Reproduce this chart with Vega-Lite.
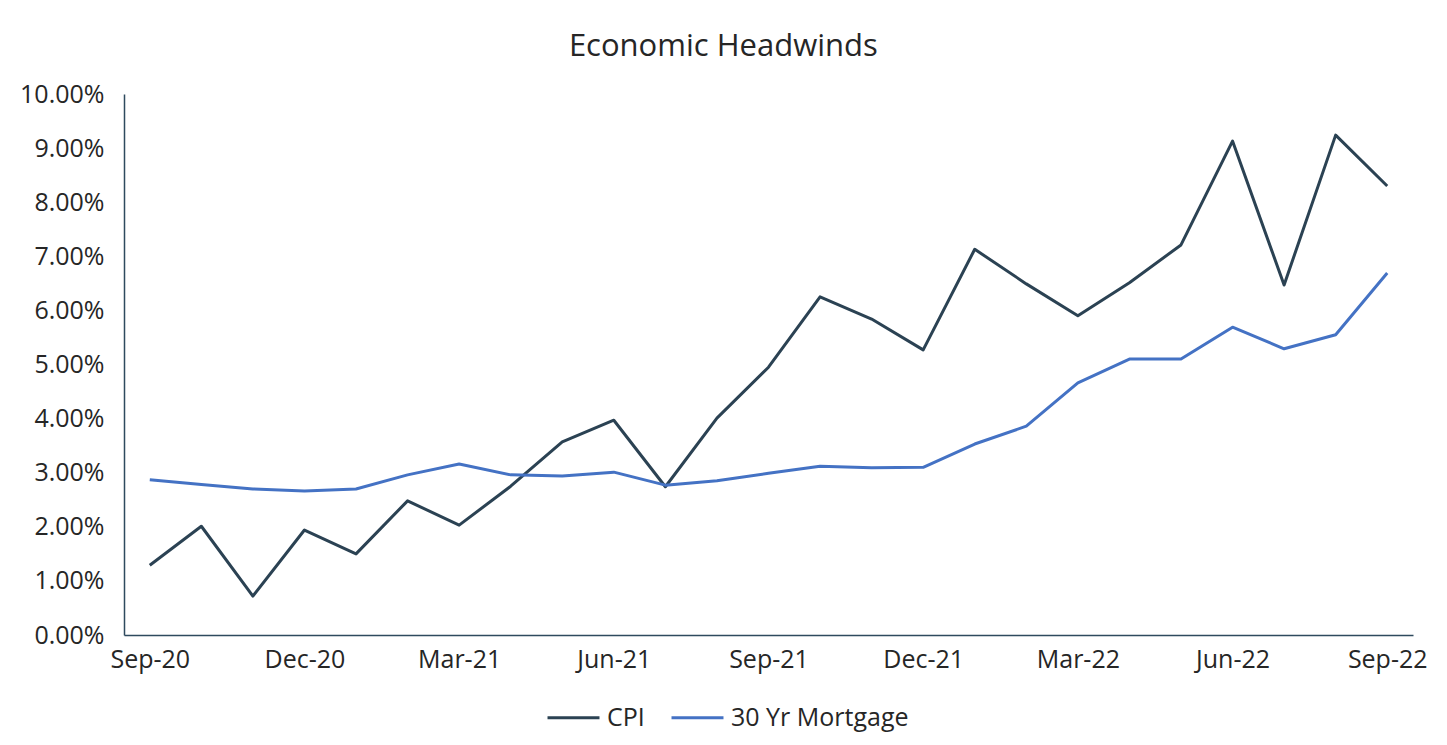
{
  "$schema": "https://vega.github.io/schema/vega-lite/v6.json",
  "autosize": {"type": "none"},
  "width": 1289,
  "height": 541,
  "padding": {"left": 124, "top": 94, "right": 34, "bottom": 110},
  "background": "white",
  "config": {
    "font": "Open Sans",
    "view": {"stroke": null},
    "axis": {"grid": false, "ticks": false, "domainColor": "#2E4A5E", "domainWidth": 1.5, "labelColor": "#262626", "labelFont": "Open Sans", "labelFontSize": 25, "title": null}
  },
  "title": {"text": "Economic Headwinds", "fontSize": 31, "font": "Open Sans", "fontWeight": "normal", "color": "#262626", "anchor": "middle", "frame": "bounds", "offset": 19},
  "data": {"values": [
    {"month": "Sep-20", "series": "CPI", "value": 1.29},
    {"month": "Sep-20", "series": "30 Yr Mortgage", "value": 2.87},
    {"month": "Oct-20", "series": "CPI", "value": 2.01},
    {"month": "Oct-20", "series": "30 Yr Mortgage", "value": 2.78},
    {"month": "Nov-20", "series": "CPI", "value": 0.72},
    {"month": "Nov-20", "series": "30 Yr Mortgage", "value": 2.70},
    {"month": "Dec-20", "series": "CPI", "value": 1.94},
    {"month": "Dec-20", "series": "30 Yr Mortgage", "value": 2.66},
    {"month": "Jan-21", "series": "CPI", "value": 1.50},
    {"month": "Jan-21", "series": "30 Yr Mortgage", "value": 2.70},
    {"month": "Feb-21", "series": "CPI", "value": 2.48},
    {"month": "Feb-21", "series": "30 Yr Mortgage", "value": 2.96},
    {"month": "Mar-21", "series": "CPI", "value": 2.03},
    {"month": "Mar-21", "series": "30 Yr Mortgage", "value": 3.16},
    {"month": "Apr-21", "series": "CPI", "value": 2.75},
    {"month": "Apr-21", "series": "30 Yr Mortgage", "value": 2.96},
    {"month": "May-21", "series": "CPI", "value": 3.57},
    {"month": "May-21", "series": "30 Yr Mortgage", "value": 2.94},
    {"month": "Jun-21", "series": "CPI", "value": 3.97},
    {"month": "Jun-21", "series": "30 Yr Mortgage", "value": 3.01},
    {"month": "Jul-21", "series": "CPI", "value": 2.74},
    {"month": "Jul-21", "series": "30 Yr Mortgage", "value": 2.77},
    {"month": "Aug-21", "series": "CPI", "value": 4.01},
    {"month": "Aug-21", "series": "30 Yr Mortgage", "value": 2.85},
    {"month": "Sep-21", "series": "CPI", "value": 4.95},
    {"month": "Sep-21", "series": "30 Yr Mortgage", "value": 2.99},
    {"month": "Oct-21", "series": "CPI", "value": 6.25},
    {"month": "Oct-21", "series": "30 Yr Mortgage", "value": 3.12},
    {"month": "Nov-21", "series": "CPI", "value": 5.84},
    {"month": "Nov-21", "series": "30 Yr Mortgage", "value": 3.09},
    {"month": "Dec-21", "series": "CPI", "value": 5.27},
    {"month": "Dec-21", "series": "30 Yr Mortgage", "value": 3.10},
    {"month": "Jan-22", "series": "CPI", "value": 7.13},
    {"month": "Jan-22", "series": "30 Yr Mortgage", "value": 3.53},
    {"month": "Feb-22", "series": "CPI", "value": 6.49},
    {"month": "Feb-22", "series": "30 Yr Mortgage", "value": 3.86},
    {"month": "Mar-22", "series": "CPI", "value": 5.90},
    {"month": "Mar-22", "series": "30 Yr Mortgage", "value": 4.66},
    {"month": "Apr-22", "series": "CPI", "value": 6.51},
    {"month": "Apr-22", "series": "30 Yr Mortgage", "value": 5.10},
    {"month": "May-22", "series": "CPI", "value": 7.21},
    {"month": "May-22", "series": "30 Yr Mortgage", "value": 5.10},
    {"month": "Jun-22", "series": "CPI", "value": 9.13},
    {"month": "Jun-22", "series": "30 Yr Mortgage", "value": 5.69},
    {"month": "Jul-22", "series": "CPI", "value": 6.47},
    {"month": "Jul-22", "series": "30 Yr Mortgage", "value": 5.29},
    {"month": "Aug-22", "series": "CPI", "value": 9.24},
    {"month": "Aug-22", "series": "30 Yr Mortgage", "value": 5.55},
    {"month": "Sep-22", "series": "CPI", "value": 8.30},
    {"month": "Sep-22", "series": "30 Yr Mortgage", "value": 6.69}
  ]},
  "mark": {"type": "line", "strokeWidth": 3, "strokeJoin": "round"},
  "encoding": {
    "x": {
      "field": "month", "type": "ordinal", "sort": null,
      "scale": {"type": "point", "padding": 0.5},
      "axis": {"values": ["Sep-20", "Dec-20", "Mar-21", "Jun-21", "Sep-21", "Dec-21", "Mar-22", "Jun-22", "Sep-22"], "labelAngle": 0, "labelPadding": 12}
    },
    "y": {
      "field": "value", "type": "quantitative",
      "scale": {"domain": [0, 10], "nice": false},
      "axis": {"values": [0, 1, 2, 3, 4, 5, 6, 7, 8, 9, 10], "labelExpr": "format(datum.value, '.2f') + '%'", "labelPadding": 20}
    },
    "color": {
      "field": "series", "type": "nominal",
      "scale": {"domain": ["CPI", "30 Yr Mortgage"], "range": ["#2B4253", "#4472C4"]},
      "legend": {"title": null, "orient": "none", "direction": "horizontal", "legendX": 422, "legendY": 596, "symbolType": "stroke", "symbolSize": 2700, "symbolStrokeWidth": 3, "labelFontSize": 25, "labelColor": "#262626", "labelFont": "Open Sans", "labelOffset": 6, "labelLimit": 400, "columnPadding": 20}
    }
  }
}
